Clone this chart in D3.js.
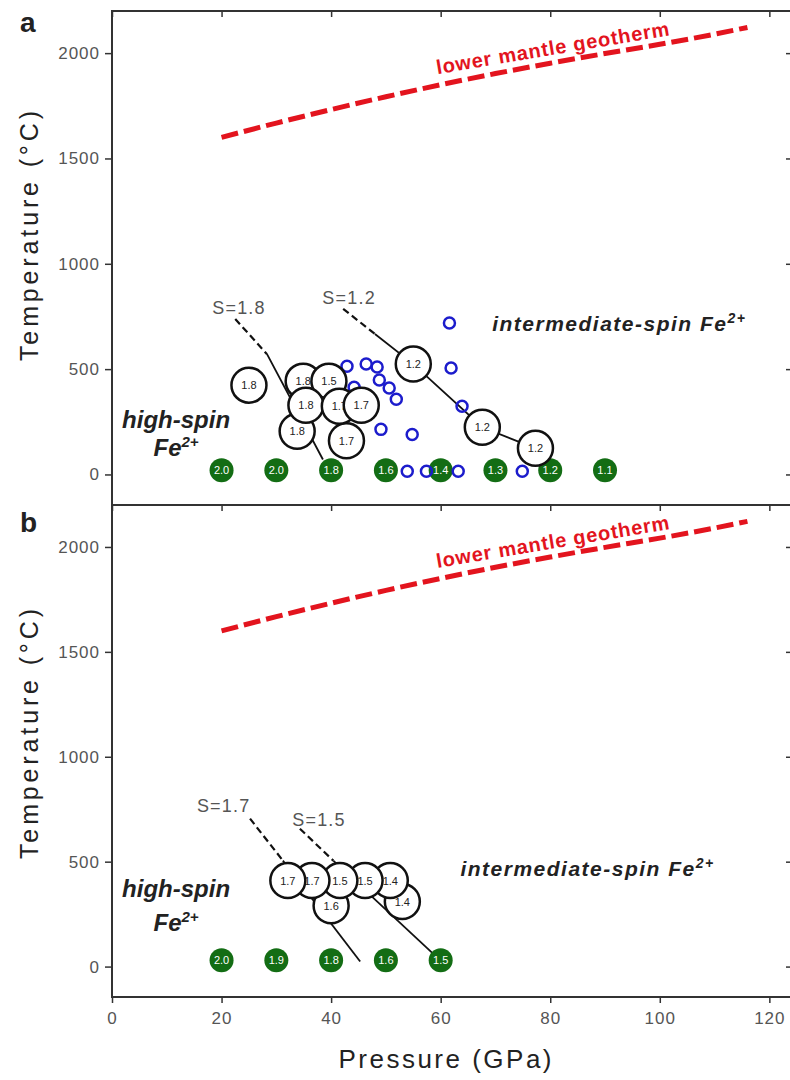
<!DOCTYPE html>
<html>
<head>
<meta charset="utf-8">
<script src="https://cdn.jsdelivr.net/npm/d3@7"></script>
<style>
  body { margin: 0; background: #fff; }
  svg { display: block; }
  text { font-family: "Liberation Sans", Arial, Helvetica, sans-serif; }
</style>
</head>
<body>
<svg id="chart" width="790" height="1080"></svg>
<script>
// ---------- axes ----------
const xTicks = [0, 20, 40, 60, 80, 100, 120];
const yTicks = [0, 500, 1000, 1500, 2000];

// ---------- lower mantle geotherm (P in GPa, T in °C) ----------
const geothermP = [20, 30, 40, 50, 60, 70, 80, 90, 100, 110, 116];
const geothermT = [1600, 1668, 1732, 1793, 1850, 1903, 1952, 1998, 2042, 2090, 2122];

// ---------- panel a ----------
const greenA_P = [20, 30, 40, 50, 60, 70, 80, 90];
const greenA_T = [20, 20, 20, 20, 20, 20, 20, 20];
const greenA_S = ["2.0", "2.0", "1.8", "1.6", "1.4", "1.3", "1.2", "1.1"];

const blueA_P = [61.6, 42.9, 46.4, 48.4, 61.9, 48.8, 44.2, 50.6, 51.9, 63.9, 49.1, 54.8, 53.9, 57.4, 63.2, 74.9];
const blueA_T = [719, 514, 524, 510, 505, 448, 414, 410, 357, 324, 214, 190, 15, 15, 15, 15];

const spinA_P = [25.0, 34.9, 39.6, 33.8, 42.8, 35.4, 41.5, 45.5, 55.0, 67.6, 77.3];
const spinA_T = [424, 443, 443, 205, 160, 329, 324, 329, 524, 224, 124];
const spinA_S = ["1.8", "1.8", "1.5", "1.8", "1.7", "1.8", "1.7", "1.7", "1.2", "1.2", "1.2"];

const trendA18_P = [22.5, 28.3, 38.5];
const trendA18_T = [738, 571, 71];
const trendA12_P = [42.2, 48.0, 55.0, 67.6, 77.3];
const trendA12_T = [786, 667, 524, 224, 124];

// ---------- panel b ----------
const greenB_P = [20, 30, 40, 50, 60];
const greenB_T = [30, 30, 30, 30, 30];
const greenB_S = ["2.0", "1.9", "1.8", "1.6", "1.5"];

const spinB_P = [40.0, 53.0, 50.8, 46.2, 41.6, 36.5, 32.1];
const spinB_T = [290, 310, 410, 410, 410, 410, 410];
const spinB_S = ["1.6", "1.4", "1.4", "1.5", "1.5", "1.7", "1.7"];

const trendB17_P = [25.2, 31.2, 45.3];
const trendB17_T = [705, 505, 24];
const trendB15_P = [34.3, 40.4, 59.0];
const trendB15_T = [657, 505, 52];

// ---------- layout ----------
const svg = d3.select("#chart");
const xRange = [112, 794];
const x = d3.scaleLinear().domain([0, 124.5]).range(xRange);

const RED = "#e3141e";
const GREEN = "#136d14";
const BLUE = "#1c1ccc";
const FRAME = "#333";

const panels = [
  {
    key: "a", top: 11, bottom: 505, letterY: 32,
    green: { P: greenA_P, T: greenA_T, S: greenA_S },
    blue: { P: blueA_P, T: blueA_T },
    spin: { P: spinA_P, T: spinA_T, S: spinA_S },
    trends: [
      { P: trendA18_P, T: trendA18_T, label: "S=1.8", lp: 18.3, lt: 762 },
      { P: trendA12_P, T: trendA12_T, label: "S=1.2", lp: 38.4, lt: 810 }
    ],
    hs: { p: 11.7, t1: 219, t2: 86 },
    is: { p: 69.4, t: 681 },
    titleY: 236
  },
  {
    key: "b", top: 505, bottom: 997, letterY: 532,
    green: { P: greenB_P, T: greenB_T, S: greenB_S },
    blue: { P: [], T: [] },
    spin: { P: spinB_P, T: spinB_T, S: spinB_S },
    trends: [
      { P: trendB17_P, T: trendB17_T, label: "S=1.7", lp: 15.5, lt: 738 },
      { P: trendB15_P, T: trendB15_T, label: "S=1.5", lp: 32.9, lt: 671 }
    ],
    hs: { p: 11.7, t1: 333, t2: 171 },
    is: { p: 63.6, t: 433 },
    titleY: 734
  }
];

panels.forEach((pn, idx) => {
  const y = d3.scaleLinear().domain([-145, 2200]).range([pn.bottom, pn.top]);
  const g = svg.append("g").attr("class", "panel-" + pn.key);

  // geotherm
  const geo = d3.line().x(d => x(d[0])).y(d => y(d[1])).curve(d3.curveMonotoneX);
  g.append("path")
    .attr("d", geo(d3.zip(geothermP, geothermT)))
    .attr("fill", "none").attr("stroke", RED).attr("stroke-width", 5)
    .attr("stroke-dasharray", "17,6");
  // geotherm label, rotated along the curve
  const lp = 59.4, lt = 1900;
  g.append("text")
    .attr("transform", `translate(${x(lp)},${y(lt)}) rotate(-9.5)`)
    .attr("fill", RED).attr("font-weight", "bold").attr("font-size", 20)
    .attr("textLength", 236).attr("lengthAdjust", "spacing")
    .text("lower mantle geotherm");

  // trend lines: dashed first segment, solid remainder
  const seg = d3.line().x(d => x(d[0])).y(d => y(d[1]));
  pn.trends.forEach(tr => {
    const pts = d3.zip(tr.P, tr.T);
    g.append("path").attr("d", seg(pts.slice(0, 2)))
      .attr("fill", "none").attr("stroke", "#111").attr("stroke-width", 2.2)
      .attr("stroke-dasharray", "7,4");
    g.append("path").attr("d", seg(pts.slice(1)))
      .attr("fill", "none").attr("stroke", "#111").attr("stroke-width", 1.8);
    g.append("text")
      .attr("x", x(tr.lp)).attr("y", y(tr.lt))
      .attr("font-size", 18).attr("fill", "#555").attr("letter-spacing", 1.2)
      .text(tr.label);
  });

  // green reference circles (ambient temperature)
  const gg = g.append("g").selectAll("g").data(d3.zip(pn.green.P, pn.green.T, pn.green.S)).join("g")
    .attr("transform", d => `translate(${x(d[0])},${y(d[1])})`);
  gg.append("circle").attr("r", 12).attr("fill", GREEN);
  gg.append("text").attr("text-anchor", "middle").attr("dy", 4).attr("font-size", 11)
    .attr("fill", "#fff").text(d => d[2]);

  // blue open circles
  g.append("g").selectAll("circle").data(d3.zip(pn.blue.P, pn.blue.T)).join("circle")
    .attr("cx", d => x(d[0])).attr("cy", d => y(d[1])).attr("r", 5.5)
    .attr("fill", "none").attr("stroke", BLUE).attr("stroke-width", 2.5);

  // spin-state circles (open, labelled)
  const sg = g.append("g").selectAll("g").data(d3.zip(pn.spin.P, pn.spin.T, pn.spin.S)).join("g")
    .attr("transform", d => `translate(${x(d[0])},${y(d[1])})`);
  sg.append("circle").attr("r", 17.5).attr("fill", "#fff").attr("stroke", "#111").attr("stroke-width", 2.5);
  sg.append("text").attr("text-anchor", "middle").attr("dy", 4).attr("font-size", 11)
    .attr("fill", "#222").text(d => d[2]);

  // region labels
  g.append("text").attr("x", x(pn.hs.p)).attr("y", y(pn.hs.t1)).attr("text-anchor", "middle")
    .attr("font-size", 24).attr("font-weight", "bold").attr("font-style", "italic").attr("fill", "#222")
    .text("high-spin");
  const fe = g.append("text").attr("x", x(pn.hs.p)).attr("y", y(pn.hs.t2)).attr("text-anchor", "middle")
    .attr("font-size", 24).attr("font-weight", "bold").attr("font-style", "italic").attr("fill", "#222");
  fe.append("tspan").text("Fe");
  fe.append("tspan").attr("font-size", 15).attr("dy", -9).text("2+");

  const im = g.append("text").attr("x", x(pn.is.p)).attr("y", y(pn.is.t))
    .attr("font-size", 21).attr("font-weight", "bold").attr("font-style", "italic").attr("fill", "#222")
    .attr("letter-spacing", 1.5);
  im.append("tspan").text("intermediate-spin Fe");
  im.append("tspan").attr("font-size", 14).attr("dy", -8).text("2+");

  // axes
  const left = g.append("g").attr("transform", `translate(${xRange[0]},0)`)
    .call(d3.axisLeft(y).tickValues(yTicks).tickSize(7).tickFormat(d3.format("d")));
  left.select(".domain").remove();
  left.selectAll("line").attr("stroke", FRAME).attr("stroke-width", 1.5);
  left.selectAll("text").attr("font-size", 17).attr("fill", "#555").attr("letter-spacing", 1)
    .attr("font-family", "Liberation Sans, Arial, sans-serif").attr("dx", -2);

  const right = g.append("g").attr("transform", `translate(${xRange[1] - 2},0)`)
    .call(d3.axisRight(y).tickValues(yTicks).tickSize(-6).tickFormat(""));
  right.select(".domain").remove();
  right.selectAll("line").attr("stroke", FRAME).attr("stroke-width", 1.5);

  const topAx = g.append("g").attr("transform", `translate(0,${pn.top})`)
    .call(d3.axisTop(x).tickValues(xTicks).tickSize(-6).tickFormat(""));
  topAx.select(".domain").remove();
  topAx.selectAll("line").attr("stroke", FRAME).attr("stroke-width", 1.5);

  if (idx === 1) {
    const bot = g.append("g").attr("transform", `translate(0,${pn.bottom})`)
      .call(d3.axisBottom(x).tickValues(xTicks).tickSize(6).tickPadding(9));
    bot.select(".domain").remove();
    bot.selectAll("line").attr("stroke", FRAME).attr("stroke-width", 1.5);
    bot.selectAll("text").attr("font-size", 17).attr("fill", "#555").attr("letter-spacing", 1)
      .attr("font-family", "Liberation Sans, Arial, sans-serif");
  }

  // frame
  g.append("rect").attr("x", xRange[0]).attr("y", pn.top)
    .attr("width", xRange[1] - xRange[0]).attr("height", pn.bottom - pn.top)
    .attr("fill", "none").attr("stroke", FRAME).attr("stroke-width", 2);

  // y title
  g.append("text").attr("transform", `translate(38,${pn.titleY}) rotate(-90)`)
    .attr("text-anchor", "middle").attr("font-size", 25).attr("fill", "#222")
    .attr("textLength", 250).attr("lengthAdjust", "spacing")
    .text("Temperature (°C)");

  // panel letter
  svg.append("text").attr("x", 20).attr("y", pn.letterY)
    .attr("font-size", 28).attr("font-weight", "bold").attr("fill", "#222").text(pn.key);
});

// x title
svg.append("text").attr("x", 445).attr("y", 1068).attr("text-anchor", "middle")
  .attr("font-size", 26).attr("fill", "#222")
  .attr("textLength", 213).attr("lengthAdjust", "spacing")
  .text("Pressure (GPa)");
</script>
</body>
</html>
